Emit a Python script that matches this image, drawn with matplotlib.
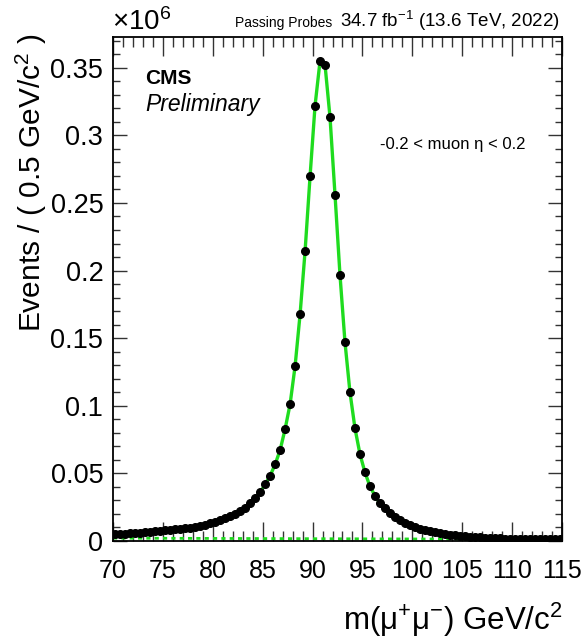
import numpy as np
import matplotlib
matplotlib.use('Agg')
import matplotlib.pyplot as plt
from matplotlib.ticker import MultipleLocator, FuncFormatter

# tag-and-probe mass spectrum, passing probes, |eta| < 0.2
# bin centres in GeV (0.5 GeV bins from 70 to 115)
mass = np.arange(70.25, 115.0, 0.5)

# events per bin, in units of 1e6
events = [
    0.0050, 0.0052, 0.0054, 0.0057, 0.0059, 0.0061, 0.0064, 0.0069, 0.0072, 0.0074,   # 70.25 - 74.75
    0.0079, 0.0081, 0.0087, 0.0089, 0.0094, 0.0098, 0.0106, 0.0113, 0.0121, 0.0131,   # 75.25 - 79.75
    0.0141, 0.0153, 0.0168, 0.0183, 0.0200, 0.0222, 0.0246, 0.0283, 0.0320, 0.0360,   # 80.25 - 84.75
    0.0419, 0.0483, 0.0567, 0.0673, 0.0828, 0.1013, 0.1294, 0.1677, 0.2143, 0.2697,   # 85.25 - 89.75
    0.3220, 0.3550, 0.3521, 0.3134, 0.2561, 0.1967, 0.1470, 0.1100, 0.0834, 0.0643,   # 90.25 - 94.75
    0.0508, 0.0405, 0.0335, 0.0279, 0.0242, 0.0210, 0.0180, 0.0155, 0.0136, 0.0118,   # 95.25 - 99.75
    0.0104, 0.0091, 0.0081, 0.0072, 0.0064, 0.0057, 0.0052, 0.0047, 0.0042, 0.0039,   # 100.25 - 104.75
    0.0035, 0.0032, 0.0030, 0.0027, 0.0025, 0.0023, 0.0022, 0.0020, 0.0018, 0.0017,   # 105.25 - 109.75
    0.0016, 0.0015, 0.0015, 0.0014, 0.0014, 0.0013, 0.0013, 0.0013, 0.0012, 0.0012,   # 110.25 - 114.75
]

# background component (green dashed), in units of 1e6
bkg_mass = [70, 80, 90, 100, 110, 115]
bkg_vals = [0.0021, 0.0019, 0.0017, 0.0015, 0.0013, 0.0012]

plt.rcParams['font.family'] = ['Liberation Sans', 'DejaVu Sans']
plt.rcParams['mathtext.fontset'] = 'custom'
plt.rcParams['mathtext.rm'] = 'Liberation Sans'
plt.rcParams['mathtext.it'] = 'Liberation Sans:italic'
plt.rcParams['mathtext.bf'] = 'Liberation Sans:bold'

W, H = 585, 644
fig = plt.figure(figsize=(W / 100, H / 100), dpi=100)
ax = fig.add_axes([113 / W, 1 - 541 / H, (562 - 113) / W, (541 - 37) / H])

green = '#1fdc1f'
ax.plot(bkg_mass, bkg_vals, color=green, lw=2.0, ls=(0, (1.5, 1.5)), zorder=2)
ax.plot(mass, events, color=green, lw=2.4, zorder=3)
ax.plot(mass, events, 'o', color='black', ms=5.5, zorder=4)

ax.set_xlim(70, 115)
ax.set_ylim(0, max(events) * 1.05)

ax.xaxis.set_major_locator(MultipleLocator(5))
ax.xaxis.set_minor_locator(MultipleLocator(1))
ax.yaxis.set_major_locator(MultipleLocator(0.05))
ax.yaxis.set_minor_locator(MultipleLocator(0.01))
ax.yaxis.set_major_formatter(FuncFormatter(lambda v, p: '%g' % round(v, 2)))

ax.tick_params(which='both', direction='in', top=True, right=True, color='#333333')
ax.tick_params(axis='x', which='major', length=14, width=1, labelsize=18, pad=13)
ax.tick_params(axis='x', which='minor', length=7, width=1)
ax.tick_params(axis='y', which='major', length=10, width=1, labelsize=19.5, pad=7)
ax.tick_params(axis='y', which='minor', length=5, width=1)
for s in ax.spines.values():
    s.set_linewidth(1.3)

# labels
fig.text(31 / W, 1 - 34 / H, 'Events / ( 0.5 GeV/c$^{2}$ )', rotation=90,
         ha='center', va='top', fontsize=21.5)
fig.text(563 / W, 1 - 620 / H, 'm(μ$^{+}$μ$^{-}$) GeV/c$^{2}$',
         ha='right', va='center', fontsize=22.5)

# header
fig.text(112 / W, 1 - 30 / H, '×10$^{6}$', ha='left', va='baseline', fontsize=20)
fig.text(235 / W, 1 - 27 / H, 'Passing Probes', ha='left', va='baseline', fontsize=10)
fig.text(560 / W, 1 - 27 / H, '34.7 fb$^{-1}$ (13.6 TeV, 2022)', ha='right',
         va='baseline', fontsize=13.5)

ax.text(145 / W, 1 - 84 / H, 'CMS', transform=fig.transFigure, fontsize=15,
        fontweight='bold', ha='left', va='baseline')
ax.text(145 / W, 1 - 111 / H, 'Preliminary', transform=fig.transFigure,
        fontsize=16.5, style='italic', ha='left', va='baseline')
ax.text(380 / W, 1 - 149 / H, '-0.2 < muon η < 0.2', transform=fig.transFigure,
        fontsize=12, ha='left', va='baseline')

fig.savefig('out.png', dpi=100)
